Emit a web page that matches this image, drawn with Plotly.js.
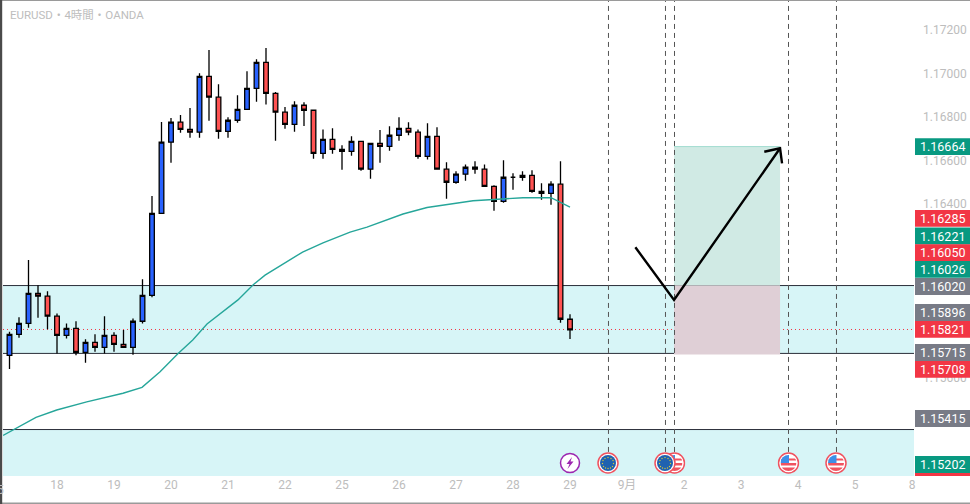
<!DOCTYPE html>
<html><head><meta charset="utf-8">
<script src="https://cdn.plot.ly/plotly-3.0.1.min.js"></script>
<style>html,body{margin:0;padding:0;background:#fff}#c{width:970px;height:504px}</style>
</head><body><div id="c"></div>
<script>
const opens=[1.15704,1.15801,1.15851,1.15989,1.15976,1.15884,1.15796,1.15828,1.15718,1.15764,1.15741,1.15796,1.15755,1.15741,1.15861,1.15980,1.16357,1.16684,1.16776,1.16743,1.16730,1.16987,1.16891,1.16734,1.16785,1.16835,1.16932,1.17051,1.16909,1.16822,1.16766,1.16854,1.16831,1.16633,1.16697,1.16651,1.16642,1.16688,1.16560,1.16679,1.16665,1.16716,1.16748,1.16730,1.16619,1.16711,1.16560,1.16500,1.16537,1.16569,1.16560,1.16481,1.16412,1.16523,1.16523,1.16532,1.16458,1.16449,1.16491,1.15870];
const highs=[1.15813,1.15879,1.16142,1.16026,1.15999,1.15897,1.15851,1.15861,1.15778,1.15801,1.15884,1.15810,1.15821,1.15874,1.16054,1.16437,1.16777,1.16795,1.16809,1.16841,1.17001,1.17108,1.16950,1.16799,1.16900,1.17010,1.17065,1.17117,1.16915,1.16846,1.16872,1.16868,1.16835,1.16743,1.16748,1.16670,1.16711,1.16688,1.16679,1.16740,1.16757,1.16799,1.16776,1.16743,1.16771,1.16753,1.16592,1.16550,1.16582,1.16596,1.16582,1.16486,1.16601,1.16541,1.16550,1.16555,1.16495,1.16504,1.16596,1.15893];
const lows=[1.15641,1.15785,1.15831,1.15877,1.15824,1.15713,1.15782,1.15704,1.15670,1.15721,1.15713,1.15721,1.15741,1.15707,1.15850,1.15971,1.16357,1.16590,1.16728,1.16705,1.16705,1.16783,1.16700,1.16705,1.16774,1.16835,1.16870,1.16857,1.16691,1.16746,1.16732,1.16759,1.16608,1.16608,1.16631,1.16558,1.16622,1.16553,1.16516,1.16590,1.16645,1.16691,1.16716,1.16608,1.16604,1.16560,1.16424,1.16493,1.16507,1.16539,1.16481,1.16369,1.16406,1.16466,1.16507,1.16452,1.16420,1.16397,1.15854,1.15779];
const closes=[1.15801,1.15851,1.15989,1.15976,1.15884,1.15796,1.15828,1.15718,1.15764,1.15741,1.15796,1.15755,1.15741,1.15861,1.15980,1.16357,1.16684,1.16776,1.16743,1.16730,1.16987,1.16891,1.16734,1.16785,1.16835,1.16932,1.17051,1.16909,1.16822,1.16766,1.16854,1.16831,1.16633,1.16697,1.16651,1.16642,1.16688,1.16560,1.16679,1.16665,1.16716,1.16748,1.16730,1.16619,1.16711,1.16560,1.16500,1.16537,1.16569,1.16560,1.16481,1.16412,1.16523,1.16523,1.16532,1.16458,1.16449,1.16491,1.15870,1.15821];
const maIdx=[-0.68,0.76,2.79,4.97,8.13,11.95,13.95,15.85,17.75,19.29,20.79,24.05,25.63,26.9,30.85,33,35.85,37.63,41.42,43.95,48.79,54.05,57,59];
const maVal=[1.15336,1.15370,1.15419,1.15453,1.15490,1.15530,1.15557,1.15629,1.15713,1.15775,1.15848,1.15959,1.16028,1.16073,1.16179,1.16221,1.16271,1.16294,1.16354,1.16384,1.16415,1.16429,1.16429,1.16386];
const arrowIdx=[65.88,69.95,81.11,null,79.45,81.11,81.32];
const arrowVal=[1.16201,1.15959,1.16656,null,1.16640,1.16656,1.16587];
const xTickVals=[5,11,17,23,29,35,41,47,53,59,65,71,77,83,89,95];
const xTickText=['18','19','20','21','22','25','26','27','28','29','9月','2','3','4','5','8'];
const yTickVals=[1.156,1.164,1.166,1.168,1.170,1.172];
const labelTexts=['1.16664','1.16285','1.16221','1.16050','1.16026','1.16020','1.15896','1.15821','1.15715','1.15708','1.15415','1.15202'];
const labelColors=['#089981','#f23645','#089981','#f23645','#089981','#787b86','#787b86','#f23645','#787b86','#f23645','#787b86','#089981'];
const labelMid=[146.7,218.3,236,252.7,269.3,286.5,312.5,329.3,352.5,369.3,418.5,464.5];
const bandTop=1.16025, bandBottom=1.15713, band2Top=1.15363, lastPrice=1.15823;
const zoneX=[69.95,81.11], zoneTop=1.16664, zoneMid=1.16025, zoneBottom=1.15708;
const eventLines=[63.05,69.05,70,82,87.05];
const eventIcons=[[59,'bolt'],[63,'eu'],[70,'us'],[69,'eu'],[82,'us'],[87,'us']];

const PL=3,PR=914,PT=1,PB=476,W=PR-PL,H=PB-PT;
const xMin=-0.684,xMax=95.21,yMax=1.173333,yMin=1.151494;
const px=x=>(x-PL)/W, py=y=>(PB-y)/H;

function svg(s){return 'data:image/svg+xml;utf8,'+encodeURIComponent('<svg xmlns="http://www.w3.org/2000/svg" width="44" height="44" viewBox="0 0 44 44">'+s+'</svg>');}
const ring='<circle cx="22" cy="22" r="20" fill="#fff" stroke="#f0525f" stroke-width="3"/>';
let stars='';for(const [a,b] of [[22,11],[28,13],[32,17],[33,23],[31,29],[27,32],[22,33],[17,32],[13,29],[11,23],[12,17],[16,13]])stars+=`<circle cx="${a}" cy="${b}" r="1.4" fill="#d7c63a"/>`;
const icons={
 eu:svg(ring+'<circle cx="22" cy="22" r="16" fill="#1f62b0"/>'+stars),
 us:svg(ring+'<clipPath id="k"><circle cx="22" cy="22" r="16"/></clipPath><g clip-path="url(#k)"><rect x="6" y="6" width="32" height="32" fill="#fff"/><rect x="6" y="13" width="32" height="4" fill="#f0525f"/><rect x="6" y="22" width="32" height="5" fill="#f0525f"/><rect x="6" y="31" width="32" height="7" fill="#f0525f"/><rect x="6" y="6" width="17" height="16" fill="#3d8fe8"/></g>'),
 bolt:svg('<circle cx="22" cy="22" r="19" fill="#fff" stroke="#9c27b0" stroke-width="3"/><path d="M26 10 L15 24 L21 24 L17 34 L29 19 L23 19 Z" fill="#9c27b0"/>')
};

const shapes=[
 {type:'rect',xref:'paper',yref:'y',x0:0,x1:1,y0:bandBottom,y1:bandTop,fillcolor:'#d7f5f7',line:{width:0},layer:'below'},
 {type:'rect',xref:'paper',yref:'y',x0:0,x1:1,y0:yMin,y1:band2Top,fillcolor:'#d7f5f7',line:{width:0},layer:'below'},
 {type:'rect',xref:'x',yref:'y',x0:zoneX[0],x1:zoneX[1],y0:zoneMid,y1:zoneTop,fillcolor:'#d0eae4',line:{width:0},layer:'below'},
 {type:'line',xref:'x',yref:'y',x0:zoneX[0],x1:zoneX[1],y0:zoneTop,y1:zoneTop,line:{color:'#a3dcd0',width:1},layer:'below'},
 {type:'rect',xref:'x',yref:'y',x0:zoneX[0],x1:zoneX[1],y0:zoneBottom,y1:zoneMid,fillcolor:'#dfcfd6',line:{width:0},layer:'below'},
 {type:'line',xref:'paper',yref:'y',x0:0,x1:1,y0:bandTop,y1:bandTop,line:{color:'#2a2e39',width:1},layer:'below'},
 {type:'line',xref:'paper',yref:'y',x0:0,x1:1,y0:bandBottom,y1:bandBottom,line:{color:'#2a2e39',width:1},layer:'below'},
 {type:'line',xref:'paper',yref:'y',x0:0,x1:1,y0:band2Top,y1:band2Top,line:{color:'#2a2e39',width:1},layer:'below'},
 {type:'line',xref:'paper',yref:'y',x0:0,x1:1,y0:lastPrice,y1:lastPrice,line:{color:'#f23645',width:1,dash:'1px,3px'},layer:'below'},
 ...eventLines.map(v=>({type:'line',xref:'x',yref:'y',x0:v,x1:v,y0:1.1526,y1:yMax,line:{color:'#555',width:1,dash:'5px,4px'},layer:'below'})),
 {type:'rect',xref:'paper',yref:'paper',x0:px(915),x1:px(970),y0:py(476),y1:py(473),fillcolor:'#f23645',line:{width:0}},
 ...labelMid.map((m,i)=>({type:'rect',xref:'paper',yref:'paper',x0:px(915),x1:px(970),y0:py(m+8.4),y1:py(m-8.4),fillcolor:labelColors[i],line:{width:0}})),
 {type:'rect',xref:'paper',yref:'paper',x0:px(0),x1:px(970),y0:py(1),y1:py(0),fillcolor:'#9a9a9a',line:{width:0}},
 {type:'rect',xref:'paper',yref:'paper',x0:px(0),x1:px(970),y0:py(504),y1:py(502.6),fillcolor:'#9a9a9a',line:{width:0}},
 {type:'rect',xref:'paper',yref:'paper',x0:px(0),x1:px(2.2),y0:py(504),y1:py(0),fillcolor:'#4a4a4a',line:{width:0}}
];

const annotations=[
 ...labelTexts.map((t,i)=>({xref:'paper',yref:'paper',x:px(943),y:py(labelMid[i]),xanchor:'center',yanchor:'middle',text:t,showarrow:false,font:{family:'Roboto, sans-serif',size:12.5,color:'#fff'}})),
 {xref:'paper',yref:'paper',x:px(0),y:py(490),xanchor:'center',yanchor:'middle',text:'5',showarrow:false,font:{family:'Roboto, sans-serif',size:12,color:'#bdbdbd'}}
];

const images=eventIcons.map(([x,k])=>({source:icons[k],xref:'x',yref:'paper',x:x,y:py(463),xanchor:'center',yanchor:'middle',sizex:22/9.5,sizey:22/H,sizing:'contain',layer:'above'}));

const traces=[
 {type:'candlestick',x:opens.map((_,i)=>i),open:opens,high:highs,low:lows,close:closes,whiskerwidth:0,
  increasing:{line:{color:'#000',width:1.3},fillcolor:'#2962ff'},decreasing:{line:{color:'#000',width:1.3},fillcolor:'#ff5252'},hoverinfo:'skip'},
 {type:'scatter',mode:'lines',x:maIdx,y:maVal,line:{color:'#26a69a',width:1.4},hoverinfo:'skip'},
 {type:'scatter',mode:'lines',x:arrowIdx,y:arrowVal,line:{color:'#000',width:2.4},hoverinfo:'skip'}
];

Plotly.newPlot('c',traces,{
 width:970,height:504,showlegend:false,paper_bgcolor:'#fff',plot_bgcolor:'#fff',
 margin:{l:PL,r:970-PR,t:PT,b:504-PB,pad:0},
 title:{text:'EURUSD・4時間・OANDA',x:10/970,xref:'container',xanchor:'left',y:1-15/504,yref:'container',yanchor:'middle',font:{family:'Roboto, "Noto Sans CJK JP", sans-serif',size:11.5,color:'#bdbdbd'}},
 xaxis:{range:[xMin,xMax],rangeslider:{visible:false},showgrid:false,zeroline:false,showline:false,ticks:'',tickmode:'array',tickvals:xTickVals,ticktext:xTickText,tickfont:{family:'Roboto, "Noto Sans CJK JP", sans-serif',size:12,color:'#bdbdbd'},fixedrange:true},
 yaxis:{range:[yMin,yMax],side:'right',showgrid:false,zeroline:false,showline:false,ticks:'',tickmode:'array',tickvals:yTickVals,ticktext:yTickVals.map(v=>v.toFixed(5)),tickfont:{family:'Roboto, sans-serif',size:12,color:'#bdbdbd'},ticklabelstandoff:8,fixedrange:true},
 shapes,annotations,images,hovermode:false
},{displayModeBar:false,staticPlot:true});
</script></body></html>
